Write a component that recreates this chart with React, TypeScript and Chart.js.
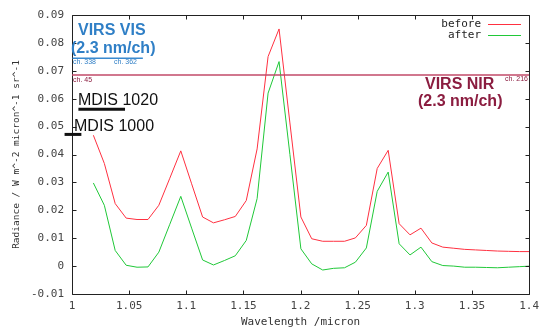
import React, { useEffect, useRef } from "react";
import { Chart, registerables } from "chart.js";

Chart.register(...registerables);

const wavelengths = [
  1.0187, 1.0283, 1.0378, 1.0474, 1.0569, 1.0665, 1.076, 1.0856, 1.0952, 1.1047,
  1.1143, 1.1238, 1.1334, 1.1429, 1.1525, 1.162, 1.1716, 1.1812, 1.1907, 1.2003,
  1.2098, 1.2194, 1.2289, 1.2385, 1.248, 1.2576, 1.2671, 1.2767, 1.2863, 1.2958,
  1.3054, 1.3149, 1.3245, 1.3341, 1.3437, 1.3532, 1.3628, 1.3723, 1.3819, 1.3915,
  1.401,
];

const beforeValues = [
  0.0469, 0.0368, 0.0224, 0.0172, 0.0167, 0.0167, 0.0218, 0.0315, 0.0413, 0.0295,
  0.0176, 0.0155, 0.0166, 0.0178, 0.0235, 0.042, 0.0751, 0.085, 0.0513, 0.0176,
  0.0098, 0.0089, 0.0089, 0.0089, 0.0101, 0.0146, 0.035, 0.0415, 0.0152, 0.0112,
  0.0136, 0.0083, 0.0068, 0.0064, 0.006, 0.0058, 0.0056, 0.0054, 0.0053, 0.0052,
  0.0052,
];

const afterValues = [
  0.0298, 0.0218, 0.0056, 0.0003, -0.0004, -0.0003, 0.005, 0.015, 0.025, 0.0136,
  0.0022, 0.0004, 0.002, 0.0037, 0.0092, 0.0242, 0.062, 0.0733, 0.04, 0.0062,
  0.0008, -0.0014, -0.0008, -0.0006, 0.0014, 0.0065, 0.0268, 0.0337, 0.008, 0.004,
  0.0068, 0.0016, 0.0002, 0.0, -0.0004, -0.0004, -0.0005, -0.0006, -0.0004, -0.0002,
  0.0,
];

const seriesNames = ["before", "after"];
const seriesColors = ["#ff3040", "#20c838"];

const xTitle = "Wavelength /micron";
const yTitle = "Radiance / W m^-2 micron^-1 sr^-1";

const MONO = "'DejaVu Sans Mono', monospace";
const SANS = "'Liberation Sans', Arial, sans-serif";

const fmt = (v: number) => String(Number(v.toFixed(2)));

const framePlugin = {
  id: "frameTicks",
  afterDatasetsDraw(chart: any) {
    const { ctx, chartArea: a, scales } = chart;
    const L = Math.round(a.left) + 0.5;
    const R = Math.round(a.right) + 0.5;
    const T = Math.round(a.top) + 0.5;
    const B = Math.round(a.bottom) + 0.5;
    ctx.save();
    ctx.strokeStyle = "#222";
    ctx.lineWidth = 1;
    ctx.beginPath();
    ctx.rect(L, T, R - L, B - T);
    const tl = 4;
    scales.x.ticks.forEach((t: any) => {
      const px = Math.round(scales.x.getPixelForValue(t.value)) + 0.5;
      ctx.moveTo(px, B);
      ctx.lineTo(px, B - tl);
      ctx.moveTo(px, T);
      ctx.lineTo(px, T + tl);
    });
    scales.y.ticks.forEach((t: any) => {
      const py = Math.round(scales.y.getPixelForValue(t.value)) + 0.5;
      ctx.moveTo(L, py);
      ctx.lineTo(L + tl, py);
      ctx.moveTo(R, py);
      ctx.lineTo(R - tl, py);
    });
    ctx.stroke();
    ctx.restore();
  },
  afterDraw(chart: any) {
    const { ctx, chartArea: a, scales } = chart;
    const xs = scales.x;
    const ys = scales.y;
    ctx.save();

    // horizontal annotation lines
    const hline = (x0: number, x1: number, yv: number, color: string, w: number) => {
      ctx.strokeStyle = color;
      ctx.lineWidth = w;
      ctx.beginPath();
      const py = ys.getPixelForValue(yv);
      ctx.moveTo(xs.getPixelForValue(x0), py);
      ctx.lineTo(xs.getPixelForValue(x1), py);
      ctx.stroke();
    };
    hline(1.0, 1.4, 0.0685, "#c24a68", 1.5);
    hline(1.0004, 1.062, 0.07453, "#3a8ad0", 1.5);
    hline(1.0056, 1.0464, 0.0562, "#111", 3);
    hline(0.9935, 1.0082, 0.0472, "#111", 3);

    const text = (s: string, x: number, y: number, font: string, color: string, align: CanvasTextAlign = "left", base: CanvasTextBaseline = "alphabetic") => {
      ctx.font = font;
      ctx.fillStyle = color;
      ctx.textAlign = align;
      ctx.textBaseline = base;
      ctx.fillText(s, x, y);
    };
    const blue = "#2f7fc6";
    const maroon = "#8b1d40";
    text("VIRS VIS", 78, 35, `bold 16px ${SANS}`, blue);
    text("(2.3 nm/ch)", 71, 53, `bold 16px ${SANS}`, blue);
    text("ch. 338", 73, 64, `7px ${SANS}`, blue);
    text("ch. 362", 114, 64, `7px ${SANS}`, blue);
    text("ch. 45", 73, 82, `7px ${SANS}`, maroon);
    text("ch. 216", 505, 81, `7px ${SANS}`, maroon);
    text("VIRS NIR", 425, 89, `bold 16px ${SANS}`, maroon);
    text("(2.3 nm/ch)", 418, 106, `bold 16px ${SANS}`, maroon);
    text("MDIS 1020", 78, 105, `16px ${SANS}`, "#111");
    text("MDIS 1000", 74, 131, `16px ${SANS}`, "#111");

    // legend
    const legendY = [24, 35];
    seriesNames.forEach((name, i) => {
      text(name, 481, legendY[i], `11px ${MONO}`, "#222", "right", "middle");
      ctx.strokeStyle = seriesColors[i];
      ctx.lineWidth = 1;
      ctx.beginPath();
      ctx.moveTo(488, legendY[i] + 0.5);
      ctx.lineTo(521, legendY[i] + 0.5);
      ctx.stroke();
    });
    ctx.restore();
  },
};

export default function App() {
  const ref = useRef<HTMLCanvasElement | null>(null);
  useEffect(() => {
    if (!ref.current) return;
    const series = [beforeValues, afterValues];
    const chart = new Chart(ref.current, {
      type: "line",
      data: {
        datasets: series.map((vals, i) => ({
          label: seriesNames[i],
          data: wavelengths.map((x, j) => ({ x, y: vals[j] })),
          borderColor: seriesColors[i],
          backgroundColor: seriesColors[i],
          borderWidth: 1,
          pointRadius: 0,
          tension: 0,
          fill: false,
        })),
      },
      options: {
        animation: false,
        responsive: false,
        devicePixelRatio: 1,
        layout: { padding: { top: 15, right: 12, left: 0, bottom: 0 } },
        plugins: { legend: { display: false }, tooltip: { enabled: false } },
        scales: {
          x: {
            type: "linear",
            min: 1,
            max: 1.4,
            grid: { display: false, drawTicks: false },
            border: { display: false },
            ticks: {
              stepSize: 0.05,
              padding: 6,
              color: "#444",
              font: { family: MONO, size: 11 },
              maxRotation: 0,
              autoSkip: false,
              callback: (v: any) => fmt(Number(v)),
            },
            title: {
              display: true,
              text: xTitle,
              color: "#333",
              font: { family: MONO, size: 11 },
              padding: { top: 0, bottom: 0 },
            },
            afterFit: (s: any) => {
              s.height = 35;
            },
          },
          y: {
            type: "linear",
            min: -0.01,
            max: 0.09,
            grid: { display: false, drawTicks: false },
            border: { display: false },
            ticks: {
              stepSize: 0.01,
              padding: 8,
              color: "#444",
              font: { family: MONO, size: 11 },
              autoSkip: false,
              callback: (v: any) => fmt(Number(v)),
            },
            title: {
              display: true,
              text: yTitle,
              color: "#333",
              font: { family: MONO, size: 9.5 },
              padding: { top: 11, bottom: 0 },
            },
            afterFit: (s: any) => {
              s.width = 72;
            },
          },
        },
      },
      plugins: [framePlugin],
    } as any);
    return () => chart.destroy();
  }, []);
  return (
    <div style={{ position: "fixed", left: 0, top: 0, width: 545, height: 329, background: "#fff" }}>
      <canvas ref={ref} width={545} height={329} style={{ display: "block" }} />
    </div>
  );
}
